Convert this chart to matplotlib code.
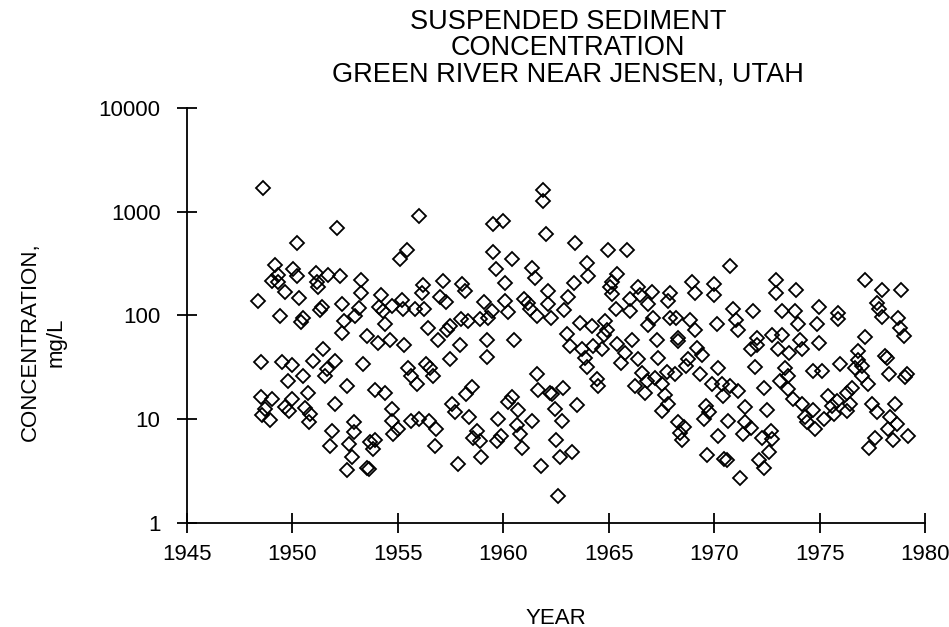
import numpy as np
import matplotlib
matplotlib.use('Agg')
from matplotlib import pyplot as plt

plt.rcParams['font.family'] = ['Liberation Sans', 'DejaVu Sans']

# sample dates (decimal year) and concentrations (mg/L), 1948-1962
year_a = [1948.59, 1950.20, 1949.17, 1950.04, 1950.23, 1949.30, 1949.05, 1949.30, 1949.65, 1950.31,
          1948.38, 1949.41, 1950.52, 1950.41,
          1948.51, 1949.49, 1949.96, 1949.77, 1950.52, 1950.72, 1948.51, 1949.05, 1949.96, 1949.65,
          1949.84, 1948.70, 1948.57, 1948.94, 1950.60, 1950.83, 1950.78,
          1952.13, 1956.00, 1955.42, 1955.10, 1951.10, 1951.67, 1952.25, 1951.15, 1951.20, 1953.25,
          1953.25, 1954.20, 1955.18, 1954.74, 1955.26, 1956.20, 1956.13, 1951.42, 1951.31, 1952.37,
          1953.16, 1952.97, 1954.31, 1954.10, 1955.81, 1956.25, 1952.46, 1954.39, 1956.44, 1952.37,
          1953.52,
          1954.07, 1954.62, 1955.30, 1951.46, 1950.99, 1952.02, 1951.62, 1951.54, 1953.36, 1952.57,
          1953.91, 1954.39, 1955.49, 1955.62, 1955.89, 1956.32, 1956.52, 1952.02, 1954.74, 1954.74,
          1954.99, 1954.78, 1955.62, 1956.00, 1956.47, 1951.89, 1951.78, 1952.93, 1952.93, 1952.68,
          1952.81, 1953.68, 1953.91, 1953.84, 1952.57, 1953.52, 1953.63,
          1961.90, 1961.90, 1959.52, 1960.00, 1962.01, 1959.52, 1960.43, 1959.64, 1961.34, 1961.50,
          1957.15, 1958.02, 1958.18, 1960.08, 1956.99, 1957.27, 1959.10, 1960.08, 1961.00, 1961.19,
          1962.13, 1962.13, 1959.45, 1959.26, 1960.20, 1961.26, 1961.58, 1957.99, 1958.31, 1958.89,
          1957.47, 1957.31,
          1956.92, 1957.94, 1959.21, 1960.52, 1957.47, 1959.21, 1956.68, 1961.58, 1958.50, 1958.21,
          1961.66, 1962.21, 1960.43, 1960.24, 1960.68, 1957.55, 1957.71, 1958.37, 1959.76, 1961.34,
          1956.79, 1958.73, 1958.58, 1958.89, 1959.89, 1959.68, 1960.63, 1960.79, 1960.87, 1956.76,
          1958.94, 1957.83, 1961.79]
conc_a = [1690, 500, 305, 277, 239, 244, 214, 211, 169, 148,
          139, 99, 94, 87,
          35.6, 35.6, 33.3, 23.3, 26.1, 18.0, 16.4, 15.5, 15.5, 13.1,
          12.0, 12.5, 11.0, 9.8, 12.8, 11.2, 9.3,
          697, 902, 431, 346, 257, 243, 239, 211, 189, 217,
          165, 157, 140, 123, 114, 196, 163, 120, 112, 128,
          117, 99, 110, 120, 114, 114, 88, 83, 75, 67,
          63,
          54.6, 57.4, 51.8, 47.1, 36.4, 36.4, 30.3, 26.1, 33.8, 20.9,
          19.0, 17.7, 31.3, 26.1, 21.7, 33.8, 31.3, 13.9, 12.5, 9.5,
          8.0, 7.2, 9.5, 10.0, 9.5, 7.7, 5.5, 9.3, 7.6, 5.7,
          4.3, 6.0, 6.3, 5.1, 3.2, 3.4, 3.3,
          1630, 1277, 762, 807, 611, 409, 346, 277, 283, 227,
          214, 202, 171, 206, 150, 136, 136, 137, 143, 132,
          171, 128, 110, 95, 108, 114, 99, 92, 88, 92,
          79, 73,
          57.4, 51.8, 57.4, 57.4, 37.8, 39.7, 26.1, 27.5, 20.5, 17.4,
          19.0, 18.0, 16.4, 14.5, 12.2, 13.9, 11.8, 10.5, 10.0, 9.5,
          8.0, 7.7, 6.6, 6.2, 6.9, 6.1, 8.8, 7.2, 5.3, 5.5,
          4.3, 3.7, 3.5]

# 1962-1980
year_b = [1963.40, 1964.98, 1965.85, 1963.95, 1964.03, 1963.37, 1965.37, 1965.14, 1965.06, 1965.14,
          1962.26, 1963.05, 1962.89, 1966.37, 1966.48, 1967.03, 1966.01, 1966.01, 1965.33, 1966.87,
          1967.90, 1967.82, 1967.11, 1966.87, 1967.90, 1963.63, 1964.19, 1964.82, 1964.90, 1963.00,
          1963.16, 1963.71, 1964.27, 1964.66, 1964.75, 1965.37, 1965.77, 1966.12, 1966.37, 1967.27,
          1967.35, 1963.87, 1963.95, 1965.58, 1966.56, 1966.80, 1966.24, 1966.72, 1967.19, 1967.51,
          1967.74, 1967.66, 1967.82, 1967.51, 1964.42, 1964.50, 1962.32, 1962.84, 1962.45, 1962.80,
          1963.48, 1962.48, 1962.69, 1963.27, 1962.61,
          1970.75, 1968.96, 1969.09, 1970.00, 1970.00, 1972.91, 1972.91, 1970.90, 1971.02, 1971.14,
          1971.81, 1973.20, 1968.17, 1968.85, 1969.09, 1970.11, 1972.75, 1973.23, 1972.01, 1968.30,
          1968.27, 1969.17, 1969.40, 1968.74, 1968.65, 1968.14, 1969.32, 1970.19, 1969.88, 1970.35,
          1970.43, 1970.75, 1971.11, 1971.93, 1971.74, 1972.01, 1973.04, 1973.54, 1973.35, 1973.12,
          1973.51, 1973.48, 1972.37, 1969.59, 1969.75, 1969.53, 1970.67, 1971.46, 1972.49, 1971.46,
          1971.74, 1971.38, 1968.30, 1968.58, 1968.38, 1968.49, 1970.19, 1972.25, 1972.69, 1972.75,
          1972.60, 1969.64, 1970.48, 1970.59, 1972.12, 1972.37, 1971.22,
          1977.12, 1977.94, 1978.86, 1973.86, 1977.70, 1977.81, 1977.94, 1978.73, 1978.81, 1978.97,
          1974.94, 1973.83, 1973.99, 1974.86, 1975.88, 1975.85, 1977.12,
          1974.07, 1974.15, 1974.94, 1976.83, 1976.83, 1976.99, 1976.67, 1978.10, 1978.18, 1975.96,
          1974.70, 1975.09, 1978.26, 1979.12, 1979.04, 1976.99, 1977.27, 1973.75, 1976.52, 1976.28,
          1975.41, 1975.80, 1975.57, 1974.15, 1974.70, 1974.30, 1974.38, 1974.78, 1975.22, 1975.69,
          1976.28, 1976.44, 1977.46, 1977.70, 1978.57, 1978.33, 1978.65, 1978.25, 1978.49, 1979.20,
          1977.62, 1977.31]
conc_b = [500, 431, 431, 321, 239, 206, 248, 211, 187, 159,
          95, 150, 112, 187, 157, 169, 143, 110, 114, 128,
          165, 137, 94, 81, 94, 85, 79, 88, 72, 66,
          50.7, 47.1, 50.7, 47.1, 65, 52.6, 43.8, 57.4, 37.8, 57.4,
          38.6, 38.6, 31.8, 35.1, 28.1, 23.3, 20.9, 18.0, 25.1, 21.7,
          28.7, 17.1, 13.9, 12.0, 24.2, 20.9, 17.6, 20.1, 12.5, 9.5,
          13.7, 6.3, 4.3, 4.8, 1.83,
          298, 211, 165, 199, 157, 217, 165, 114, 90, 72,
          110, 110, 94, 90, 72, 83, 65, 65, 61, 60,
          56.6, 48.8, 41.5, 37.8, 32.6, 27.5, 27.1, 31.3, 21.7, 21.7,
          16.7, 20.9, 18.7, 31.8, 47.1, 51.8, 47.1, 43.8, 31.3, 23.3,
          26.1, 19.4, 20.1, 13.4, 11.8, 10.0, 9.5, 13.1, 12.2, 9.3,
          8.3, 7.2, 9.3, 8.4, 7.4, 6.3, 6.9, 6.6, 7.7, 6.4,
          4.8, 4.5, 4.1, 4.0, 4.0, 3.4, 2.7,
          217, 174, 174, 174, 132, 114, 96, 94, 75, 63,
          120, 110, 82, 82, 106, 92, 62,
          58, 47.1, 54.6, 45.4, 36.9, 32.6, 31.3, 40.6, 38.6, 33.8,
          29.1, 29.1, 27.5, 27.5, 25.5, 26.1, 22.0, 15.6, 20.1, 18.0,
          16.7, 15.0, 13.4, 13.9, 12.2, 10.5, 9.3, 8.0, 10.0, 11.2,
          12.0, 13.9, 13.9, 11.6, 13.9, 10.4, 9.0, 8.0, 6.3, 6.9,
          6.6, 5.3]

years = np.array(year_a + year_b)
conc = np.array(conc_a + conc_b)

x_ticks = [1945, 1950, 1955, 1960, 1965, 1970, 1975, 1980]
y_ticks = [1, 10, 100, 1000, 10000]

fig = plt.figure(figsize=(9.49, 6.27), dpi=100)
ax = fig.add_axes([0.197, 0.166, 0.778, 0.662])

ax.plot(years, conc, linestyle='none', marker='D', ms=6.8,
        mfc='none', mec='black', mew=1.3)

ax.set_yscale('log')
ax.set_xlim(1945, 1980)
ax.set_ylim(1, 10000)
ax.set_xticks(x_ticks)
ax.set_xticklabels([str(t) for t in x_ticks])
ax.set_yticks(y_ticks)
ax.set_yticklabels([str(t) for t in y_ticks])
ax.yaxis.set_minor_locator(matplotlib.ticker.NullLocator())

for s in ['top', 'right']:
    ax.spines[s].set_visible(False)
for s in ['left', 'bottom']:
    ax.spines[s].set_linewidth(1.3)
ax.tick_params(axis='both', which='major', direction='inout', length=14,
               width=1.3, labelsize=16, pad=12)
ax.tick_params(axis='x', pad=8)

fig.text(0.5985, 0.923, 'SUSPENDED SEDIMENT\nCONCENTRATION\nGREEN RIVER NEAR JENSEN, UTAH',
         ha='center', va='center', fontsize=19.5, linespacing=1.0)
fig.text(0.046, 1 - 342 / 627, 'CONCENTRATION,\nmg/L', rotation=90,
         ha='center', va='center', multialignment='center', fontsize=16, linespacing=1.3)
fig.text(0.586, 1 - 618 / 627, 'YEAR', ha='center', va='center', fontsize=16)

fig.savefig('out.png', dpi=100)
